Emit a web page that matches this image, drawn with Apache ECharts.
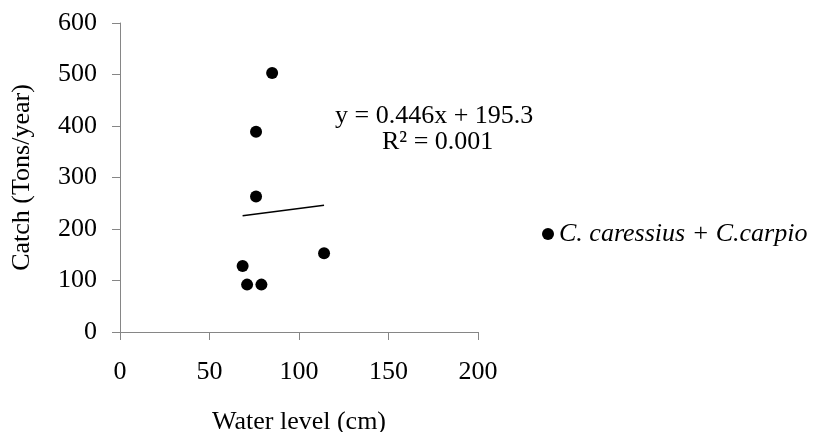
<!DOCTYPE html>
<html>
<head>
<meta charset="utf-8">
<script src="https://cdn.jsdelivr.net/npm/echarts@6/dist/echarts.min.js"></script>
<style>html,body{margin:0;padding:0;background:#fff;}#c{width:817px;height:432px;}</style>
</head>
<body>
<div id="c"></div>
<script>
const waterLevel = [85, 76, 76, 68.5, 114, 71, 79];
const catchTons = [503, 389, 263, 128, 153, 92, 92];
const xTicks = [0, 50, 100, 150, 200];
const yTicks = [0, 100, 200, 300, 400, 500, 600];
const slope = 0.446;
const intercept = 195.3;
const seriesName = 'C. caressius + C.carpio';
const eqText = 'y = 0.446x + 195.3';
const r2Text = 'R² = 0.001';

const points = waterLevel.map((x, i) => [x, catchTons[i]]);
const xMinD = Math.min(...waterLevel), xMaxD = Math.max(...waterLevel);
const trend = [[xMinD, intercept + slope * xMinD], [xMaxD, intercept + slope * xMaxD]];

const font = '"Liberation Serif", "Times New Roman", serif';
const fs = 26;
const chart = echarts.init(document.getElementById('c'));
chart.setOption({
  animation: false,
  backgroundColor: '#ffffff',
  grid: { left: 120, right: 339, top: 23, bottom: 100, containLabel: false, outerBoundsMode: 'none' },
  legend: {
    left: 537, top: 216, orient: 'vertical',
    data: [{ name: seriesName, icon: 'circle' }],
    itemWidth: 12, itemHeight: 12,
    textStyle: { fontFamily: font, fontStyle: 'italic', fontSize: fs, color: '#000' }
  },
  xAxis: {
    type: 'value', min: xTicks[0], max: xTicks[xTicks.length - 1], interval: 50,
    name: 'Water level (cm)', nameLocation: 'middle', nameGap: 77,
    nameTextStyle: { fontFamily: font, fontSize: fs, color: '#000' },
    axisLine: { show: true, lineStyle: { color: '#868686', width: 1 } },
    axisTick: { show: true, length: 8, inside: false, lineStyle: { color: '#868686' } },
    axisLabel: { fontFamily: font, fontSize: fs, color: '#000', margin: 27 },
    splitLine: { show: false }
  },
  yAxis: {
    type: 'value', min: yTicks[0], max: yTicks[yTicks.length - 1], interval: 100,
    name: 'Catch (Tons/year)', nameLocation: 'middle', nameGap: 85, nameRotate: 90,
    nameTextStyle: { fontFamily: font, fontSize: fs, color: '#000' },
    axisLine: { show: true, lineStyle: { color: '#868686', width: 1 } },
    axisTick: { show: true, length: 8, lineStyle: { color: '#868686' } },
    axisLabel: { fontFamily: font, fontSize: fs, color: '#000', margin: 23 },
    splitLine: { show: false }
  },
  series: [
    {
      name: seriesName, type: 'scatter', data: points, symbol: 'circle', symbolSize: 12,
      itemStyle: { color: '#000', opacity: 1 }, z: 3
    },
    {
      name: 'trend', type: 'line', data: trend, symbol: 'none',
      lineStyle: { color: '#000', width: 1.5 }, z: 2
    }
  ],
  graphic: [
    { type: 'text', left: 335, top: 103, style: { text: eqText, font: fs + 'px ' + font, fill: '#000' } },
    { type: 'text', left: 382, top: 129, style: { text: r2Text, font: fs + 'px ' + font, fill: '#000' } }
  ]
});
</script>
</body>
</html>
